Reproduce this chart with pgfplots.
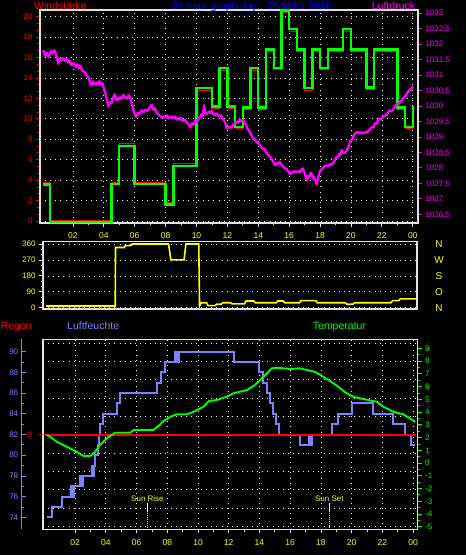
\documentclass[border=0pt]{standalone}
\usepackage{pgfplots}
\pgfplotsset{compat=1.18}
\usepackage{fontspec}
\setmainfont{Liberation Sans}
\definecolor{wred}{RGB}{255,0,0}
\definecolor{wgreen}{RGB}{0,255,0}
\definecolor{wmag}{RGB}{255,0,255}
\definecolor{wyel}{RGB}{255,255,0}
\definecolor{wblue}{RGB}{0,0,255}
\definecolor{hum}{RGB}{128,128,255}
\definecolor{axc}{RGB}{225,225,225}
\pgfplotsset{
  base/.style={
    scale only axis, anchor=south west,
    axis line style={axc, line width=1.2pt},
    /pgf/number format/assume math mode=true,
    tick label style={font=\fontsize{8}{9}\selectfont},
    tick align=outside,
    major tick length=4pt, minor tick length=2.5pt,
    grid style={white, line width=0.7pt, dash pattern=on 0.8pt off 4.3pt},
    clip mode=individual,
  },
  nolinearrow/.style={
    every outer y axis line/.append style={-},
    every inner y axis line/.append style={-},
    y axis line style={-},
  },
}
\begin{document}
\begin{tikzpicture}
\fill[black] (0pt,0pt) rectangle (466pt,555pt);
\useasboundingbox (0pt,0pt) rectangle (466pt,555pt);

% ---------------- Panel 1: wind speed ----------------
\begin{axis}[base, at={(40pt,332pt)}, width=378pt, height=213pt,
  xmin=-0.13, xmax=24.34, ymin=-0.2, ymax=20.65,
  xtick={2,4,...,24}, xticklabels={02,04,06,08,10,12,14,16,18,20,22,00},
  minor x tick num=1, xtick pos=left, ytick pos=left,
  ytick={0,2,...,20}, minor y tick num=2,
  yticklabel style={wred}, xticklabel style={wyel, font=\fontsize{8.5}{9}\selectfont, yshift=-2.5pt},
  xtick style={axc, line width=0.8pt}, ytick style={wred, line width=0.8pt},
  grid=major,
]
\addplot[const plot, wred, line width=1pt] coordinates {
(0.08,3.75)(0.5,0.05)(4.5,3.8)(5.0,7.55)(6.0,3.8)(8.0,1.82)(8.5,5.6)(10.0,12.8)(11.0,10.98)(11.5,14.72)(12.0,10.98)(12.5,9.02)(13.0,10.9)(13.5,14.72)(14.0,10.9)(14.5,16.58)(15.0,14.78)(15.5,20.45)(16.0,18.58)(16.5,16.58)(17.0,12.8)(17.5,16.58)(18.0,14.78)(18.5,16.58)(19.5,18.58)(20.0,16.58)(21.0,12.85)(21.5,16.58)(23.0,10.9)(23.5,9.02)(24.0,10.9)(24.1,10.9)
};
\addplot[const plot, wgreen, line width=2.4pt] coordinates {
(0.08,3.55)(0.5,-0.15)(4.5,3.6)(5.0,7.35)(6.0,3.6)(8.0,1.6)(8.5,5.4)(10.0,13.0)(11.0,11.2)(11.5,14.95)(12.0,11.2)(12.5,9.2)(13.0,11.1)(13.5,14.95)(14.0,11.1)(14.5,16.8)(15.0,15.0)(15.5,20.6)(16.0,18.8)(16.5,16.8)(17.0,13.0)(17.5,16.8)(18.0,15.0)(18.5,16.8)(19.5,18.8)(20.0,16.8)(21.0,13.05)(21.5,16.8)(23.0,11.1)(23.5,9.2)(24.0,11.1)(24.1,11.1)
};
\end{axis}
\begin{axis}[base, at={(40pt,332pt)}, width=378pt, height=213pt,
  xmin=-0.13, xmax=24.34, ymin=1026.22, ymax=1033.1,
  axis x line=none, axis y line*=right, nolinearrow, tick align=outside,
  ytick={1026.5,1027,...,1033}, minor y tick num=1,
  yticklabel style={wmag, /pgf/number format/.cd, fixed, precision=1, 1000 sep={}},
  ytick style={wmag, line width=0.8pt},
]
\addplot[wmag, line width=2.3pt, line join=round] coordinates {
(0.08,1031.80)(0.2,1031.62)(0.3,1031.72)(0.42,1031.58)(0.5,1031.66)(0.6,1031.78)(0.72,1031.70)(0.8,1031.80)(0.9,1031.68)(1.0,1031.48)(1.04,1031.36)(1.12,1031.52)(1.2,1031.46)(1.35,1031.55)(1.5,1031.45)(1.6,1031.52)(1.7,1031.40)(1.8,1031.46)(1.9,1031.32)(2.05,1031.38)(2.2,1031.26)(2.3,1031.34)(2.4,1031.22)(2.5,1031.30)(2.6,1031.14)(2.75,1031.10)(2.9,1030.98)(3.0,1030.92)(3.1,1030.78)(3.2,1030.66)(3.3,1030.80)(3.4,1030.70)(3.54,1030.76)(3.6,1030.68)(3.7,1030.80)(3.8,1030.70)(3.9,1030.74)(4.0,1030.58)(4.1,1030.40)(4.2,1030.20)(4.3,1029.98)(4.4,1030.12)(4.5,1030.08)(4.6,1030.26)(4.72,1030.38)(4.8,1030.22)(4.9,1030.18)(5.05,1030.28)(5.15,1030.22)(5.25,1030.36)(5.37,1030.28)(5.5,1030.24)(5.6,1030.34)(5.7,1030.28)(5.8,1030.10)(5.91,1029.88)(6.0,1029.76)(6.1,1029.64)(6.2,1029.78)(6.3,1029.74)(6.45,1029.86)(6.56,1029.80)(6.7,1029.88)(6.85,1029.84)(7.0,1029.98)(7.1,1030.04)(7.2,1029.88)(7.3,1029.94)(7.4,1029.80)(7.5,1029.74)(7.6,1029.70)(7.75,1029.62)(7.85,1029.66)(8.0,1029.62)(8.1,1029.70)(8.2,1029.60)(8.35,1029.66)(8.5,1029.60)(8.6,1029.66)(8.7,1029.56)(8.8,1029.62)(8.9,1029.56)(9.0,1029.62)(9.1,1029.52)(9.25,1029.56)(9.36,1029.48)(9.5,1029.40)(9.6,1029.30)(9.7,1029.44)(9.8,1029.40)(9.9,1029.52)(10.0,1029.46)(10.1,1029.58)(10.2,1029.62)(10.3,1029.72)(10.4,1029.66)(10.5,1030.02)(10.55,1029.80)(10.65,1029.74)(10.8,1029.82)(10.9,1029.78)(11.0,1029.84)(11.1,1029.74)(11.2,1029.70)(11.3,1029.76)(11.45,1029.66)(11.6,1029.70)(11.7,1029.58)(11.8,1029.52)(11.9,1029.40)(11.95,1029.28)(12.05,1029.30)(12.17,1029.34)(12.3,1029.30)(12.4,1029.40)(12.5,1029.44)(12.6,1029.50)(12.7,1029.46)(12.8,1029.56)(12.9,1029.50)(13.03,1029.56)(13.1,1029.46)(13.2,1029.40)(13.3,1029.26)(13.4,1029.20)(13.5,1029.10)(13.6,1029.02)(13.68,1028.94)(13.8,1028.92)(13.9,1028.84)(14.05,1028.78)(14.2,1028.66)(14.3,1028.60)(14.4,1028.62)(14.5,1028.52)(14.6,1028.44)(14.76,1028.36)(14.85,1028.30)(14.95,1028.22)(15.08,1028.08)(15.15,1028.16)(15.25,1028.12)(15.4,1028.20)(15.5,1028.10)(15.6,1028.04)(15.7,1028.00)(15.84,1027.96)(15.95,1027.88)(16.05,1027.80)(16.15,1027.86)(16.25,1027.84)(16.35,1027.90)(16.48,1027.86)(16.6,1027.90)(16.7,1027.86)(16.8,1027.96)(16.9,1027.98)(17.0,1027.84)(17.08,1027.70)(17.13,1027.60)(17.2,1027.74)(17.3,1027.70)(17.4,1027.84)(17.45,1027.80)(17.55,1027.66)(17.6,1027.72)(17.7,1027.58)(17.78,1027.46)(17.85,1027.62)(17.9,1027.74)(18.0,1027.90)(18.1,1027.96)(18.2,1028.00)(18.3,1028.06)(18.43,1028.08)(18.55,1028.06)(18.65,1028.12)(18.75,1028.10)(18.86,1028.16)(18.95,1028.24)(19.07,1028.36)(19.15,1028.34)(19.25,1028.46)(19.32,1028.42)(19.4,1028.58)(19.5,1028.50)(19.6,1028.48)(19.73,1028.56)(19.85,1028.70)(19.94,1028.84)(20.05,1028.92)(20.15,1029.02)(20.25,1029.10)(20.37,1029.16)(20.5,1029.12)(20.6,1029.16)(20.7,1029.10)(20.8,1029.14)(20.9,1029.12)(21.0,1029.18)(21.1,1029.16)(21.23,1029.24)(21.35,1029.32)(21.45,1029.30)(21.55,1029.44)(21.65,1029.42)(21.75,1029.54)(21.88,1029.60)(22.0,1029.58)(22.1,1029.68)(22.2,1029.66)(22.3,1029.72)(22.4,1029.78)(22.5,1029.86)(22.6,1029.82)(22.74,1029.88)(22.85,1029.98)(22.96,1030.06)(23.05,1030.04)(23.2,1030.14)(23.3,1030.20)(23.4,1030.26)(23.5,1030.30)(23.6,1030.38)(23.7,1030.46)(23.8,1030.52)(23.9,1030.56)(24.03,1030.62)
};
\end{axis}

% ---------------- Panel 2: wind direction ----------------
\begin{axis}[base, at={(43pt,246pt)}, width=374pt, height=67.3pt,
  xmin=0, xmax=24.13, ymin=-7, ymax=373,
  xtick=\empty,
  ytick={0,90,...,360}, minor y tick num=2, ytick pos=left,
  yticklabel style={wyel}, ytick style={wyel, line width=0.8pt},
  ymajorgrids,
]
\addplot[wyel, line width=1.6pt] coordinates {
(0.2,10)(4.66,10)(4.68,340)(5.25,340)(5.3,350)(5.68,352)(5.75,360)(8.1,360)(8.25,270)(9.1,270)(9.22,360)(10.05,360)(10.1,10)(10.2,28)(10.55,28)(10.65,12)(11.1,12)(11.2,20)(11.5,20)(11.6,28)(12.1,28)(12.2,22)(13.0,22)(13.1,38)(13.6,38)(13.7,28)(15.05,28)(15.15,38)(15.5,38)(15.6,28)(16.55,28)(16.65,40)(17.6,40)(17.7,28)(19.5,28)(19.6,20)(20.0,20)(20.1,28)(22.45,28)(22.55,40)(22.95,40)(23.05,50)(24.05,50)
};
\node[wyel, font=\fontsize{10}{11}\selectfont] at (axis cs:25.55,360) {N};
\node[wyel, font=\fontsize{10}{11}\selectfont] at (axis cs:25.55,270) {W};
\node[wyel, font=\fontsize{10}{11}\selectfont] at (axis cs:25.55,180) {S};
\node[wyel, font=\fontsize{10}{11}\selectfont] at (axis cs:25.55,90) {O};
\node[wyel, font=\fontsize{10}{11}\selectfont] at (axis cs:25.55,0) {N};
\end{axis}

% ---------------- Panel 3 ----------------
\begin{axis}[base, at={(43pt,25.7pt)}, width=374.7pt, height=190pt,
  xmin=-0.09, xmax=24.3, ymin=-5.15, ymax=5.2,
  xtick={2,4,...,24}, xticklabels={02,04,06,08,10,12,14,16,18,20,22,00},
  minor x tick num=1, xtick pos=left, xtick style={axc, line width=0.8pt},
  xticklabel style={wyel, font=\fontsize{8.5}{9}\selectfont, yshift=-2.5pt},
  ytick={-5,...,5}, yticklabels={,,,,,0,,,,,}, ytick pos=left,
  ytick style={draw=none}, yticklabel style={wred, xshift=-4pt},
  grid=major,
]
\draw[wred, line width=0.9pt] (axis cs:-0.09,0) -- ++(-4pt,0pt);
\end{axis}
\begin{axis}[base, at={(43pt,25.7pt)}, width=374.7pt, height=190pt,
  xmin=-0.09, xmax=24.3, ymin=72.84, ymax=91.2, hide axis]
\addplot[const plot, hum, line width=2pt] coordinates {
(0.16,74)(0.48,75)(1.13,76)(1.72,77)(1.78,76)(1.84,77)(1.9,76)(1.96,77)(2.3,78)(2.36,77)(2.42,78)(2.48,77)(2.54,78)(3.1,79)(3.16,78)(3.22,79)(3.3,80)(3.5,81)(3.56,82)(3.62,83)(3.84,84)(4.7,85)(4.93,86)(7.3,87)(7.58,88)(7.86,89)(8.5,90)(8.56,89)(8.62,90)(8.68,89)(8.73,90)(12.35,89)(13.98,88)(14.2,87)(14.5,86)(14.7,85)(14.9,84)(15.1,83)(15.3,82)(16.65,81)(17.2,82)(17.26,81)(17.32,82)(17.38,81)(17.45,82)(18.71,83)(19.14,84)(20.0,85)(21.38,84)(22.67,83)(23.47,82)(23.85,81)(24.1,81)
};
\end{axis}
\begin{axis}[base, at={(43pt,25.7pt)}, width=374.7pt, height=190pt,
  xmin=-0.09, xmax=24.3, ymin=-5.15, ymax=5.2, hide axis]
\addplot[wred, line width=1.6pt] coordinates {(0.05,0)(24.2,0)};
\addplot[white, line width=0.9pt] coordinates {(6.71,-3.74)(6.71,-4.16)};
\addplot[wyel, line width=0.9pt, dash pattern=on 0.8pt off 1.2pt] coordinates {(6.71,-4.16)(6.71,-5.15)};
\addplot[white, line width=0.9pt] coordinates {(18.55,-3.74)(18.55,-4.16)};
\addplot[wyel, line width=0.9pt, dash pattern=on 0.8pt off 1.2pt] coordinates {(18.55,-4.16)(18.55,-5.15)};
\node[wyel, font=\fontsize{8}{9}\selectfont, anchor=base] at (axis cs:6.71,-3.62) {Sun Rise};
\node[wyel, font=\fontsize{8}{9}\selectfont, anchor=base] at (axis cs:18.55,-3.62) {Sun Set};
\end{axis}
\begin{axis}[base, at={(43pt,25.7pt)}, width=374.7pt, height=190pt,
  xmin=-0.09, xmax=24.3, ymin=-5.2, ymax=9.71,
  axis x line=none, axis y line*=right, nolinearrow, tick align=outside,
  ytick={-5,...,9}, minor y tick num=1,
  yticklabel style={wgreen}, ytick style={wgreen, line width=0.8pt},
]
\addplot[wgreen, line width=1.9pt, line join=round] coordinates {
(0.16,2.2)(0.38,2.06)(0.8,1.67)(1.24,1.41)(1.67,1.15)(2.1,0.88)(2.54,0.55)(2.97,0.55)(3.3,0.88)(3.62,1.41)(4.06,1.94)(4.38,2.2)(4.6,2.38)(5.6,2.38)(5.8,2.59)(7.1,2.59)(7.5,2.98)(7.75,3.29)(8.2,3.63)(8.6,3.82)(9.27,3.82)(9.7,4.02)(10.36,4.42)(10.7,4.86)(11.2,4.94)(11.87,5.2)(12.3,5.47)(12.74,5.6)(13.2,5.73)(13.7,6.12)(14.04,6.51)(14.48,7.04)(14.8,7.43)(15.13,7.48)(16.0,7.38)(16.65,7.43)(17.08,7.3)(17.6,7.17)(18.16,6.77)(18.6,6.43)(19.04,6.07)(19.58,5.55)(20.1,5.2)(20.77,5.02)(21.64,4.81)(22.07,4.42)(22.72,4.02)(23.37,3.82)(23.8,3.5)(24.13,3.24)
};
\end{axis}
\begin{axis}[base, at={(21.7pt,25.7pt)}, width=1pt, height=190pt,
  xmin=0, xmax=1, ymin=72.84, ymax=91.2,
  axis x line=none, axis y line*=left, nolinearrow,
  axis line style={hum, line width=1.6pt, -},
  tick align=inside,
  ytick={74,76,...,90}, minor y tick num=1,
  yticklabel style={hum}, ytick style={hum, line width=0.8pt},
]
\end{axis}

% titles
\node[wred, inner sep=0pt, font=\fontsize{10.5}{12}\selectfont, anchor=base west] at (34pt,545.6pt) {Windstärke};
\node[wblue, inner sep=0pt, font=\fontsize{10.5}{12}\selectfont, anchor=base] at (251.7pt,545.6pt) {24 hour graph day : 15 März 2016};
\node[wmag, inner sep=0pt, font=\fontsize{10.5}{12}\selectfont, anchor=base west] at (371.7pt,545.6pt) {Luftdruck};
\node[wred, inner sep=0pt, font=\fontsize{10.5}{12}\selectfont, anchor=base west] at (0.5pt,225.5pt) {Regen};
\node[hum, inner sep=0pt, font=\fontsize{10.5}{12}\selectfont, anchor=base west] at (67pt,225.5pt) {Luftfeuchte};
\node[wgreen, inner sep=0pt, font=\fontsize{10.5}{12}\selectfont, anchor=base west] at (312.7pt,225.5pt) {Temperatur};
\end{tikzpicture}
\end{document}
